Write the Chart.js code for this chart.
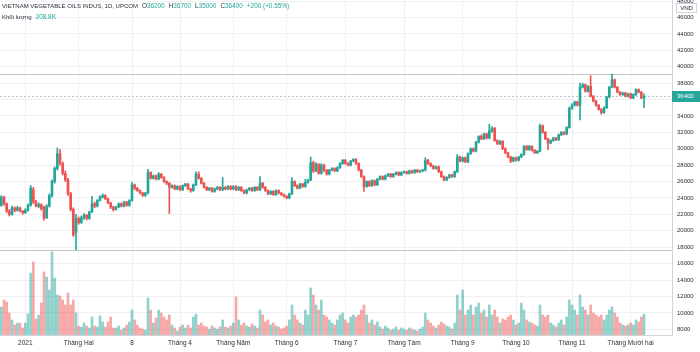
<!DOCTYPE html>
<html><head><meta charset="utf-8">
<script src="https://cdn.jsdelivr.net/npm/chart.js@4/dist/chart.umd.min.js"></script>
<style>
html,body{margin:0;padding:0;background:#fff;}
#wrap{position:relative;width:700px;height:352px;overflow:hidden;font-family:"Liberation Sans",Arial,sans-serif;}
#c{position:absolute;left:0;top:0;}
.hdr{position:absolute;left:2px;font-size:6px;color:#2a2e39;white-space:nowrap;line-height:7px;}
.g{color:#26a69a;}
.it{margin-left:4px;font-size:6.4px;}
#vnd{position:absolute;left:676px;top:3px;width:19px;height:8px;border:1px solid #d1d4dc;background:#fff;font-size:6px;line-height:8px;text-align:center;color:#2a2e39;}
</style></head>
<body><div id="wrap">
<canvas id="c" width="700" height="352"></canvas>
<div class="hdr" style="top:2px">VIETNAM VEGETABLE OILS INDUS, 1D, UPCOM<span class="it">O<span class="g">36200</span></span><span class="it">H<span class="g">36700</span></span><span class="it">L<span class="g">35000</span></span><span class="it">C<span class="g">36400</span></span><span class="it g">+200 (+0.55%)</span></div>
<div class="hdr" style="top:13px">Khối lượng<span class="it g">208.8K</span></div>
<div id="vnd">VND</div>
</div>
<script>
// ---- data (daily bars, 21 Dec 2020 .. 8 Dec 2021) ----
const open = [23100,24100,23300,22400,22000,22800,22500,22800,22400,22200,22500,23100,25000,23500,23000,23200,22900,21600,23000,24300,26000,27600,29400,28200,27000,26200,24500,22600,19800,21500,
21000,21600,21900,21500,22300,23300,23000,23700,24100,24300,23900,23400,22900,22600,22900,23300,23000,23500,23100,23700,25600,25200,24900,24600,24300,24600,27100,26400,26700,26300,
26900,26500,26000,25800,25300,25500,25100,25400,25000,25500,25700,25100,24900,25600,26900,26400,25800,25300,25000,25200,24800,25100,25300,25000,25300,25100,25400,25100,25400,25000,
25300,24900,24600,25000,25200,24900,25300,25000,25800,25300,24900,24500,24800,24400,24900,24600,24400,24200,24000,24500,26000,25500,25200,25700,25400,25900,26200,28300,27300,28100,
27000,28000,27400,26900,27400,27600,27300,27700,28200,28600,28200,28000,28500,28700,28200,27400,26600,25400,26000,25500,26100,25600,26300,26600,26300,26700,26900,26600,26900,27100,
26800,27100,27200,27000,27300,27100,27400,27200,27300,27400,28600,28200,27900,27600,27800,27200,26600,26200,26500,26800,26600,27200,29000,28500,28900,28400,29400,30000,29700,30800,
31500,31200,31800,31300,32200,32500,31000,30600,30900,30000,29500,29000,28500,28900,28600,29000,29300,30300,29900,30300,29800,29500,29700,32800,32000,31200,30700,31000,31300,31100,
31700,32000,31800,32600,34900,35300,35700,35300,37500,37800,37000,37600,36400,35800,35300,34800,34400,35000,36300,37500,38400,37500,36900,36600,36800,36400,36700,36200,36600,37200,
36900,36200];
const high = [24300,24200,23400,22600,23000,22900,23000,22900,22500,22700,23300,25500,25300,23700,23400,23300,23000,23200,24500,26200,27800,30100,29900,28400,27300,26400,24700,22800,22000,21700,
21800,22100,22000,22400,24200,23500,23800,24300,24500,24400,24000,23500,23000,23000,23400,23400,23600,23600,23800,25900,25700,25300,25000,24700,24700,27500,27200,26800,26800,27100,
27000,26600,26100,25900,25600,25600,25500,25500,25600,25800,25800,25200,25700,27200,27200,26500,25900,25400,25300,25300,25200,25400,25400,26500,25400,25500,25500,25500,25500,25400,
25400,25000,25100,25300,25300,25400,25400,26600,25900,25400,25000,24900,24900,25000,25000,24700,24500,24300,24600,26500,26100,25600,25800,25800,26300,26300,29000,28500,28300,28200,
28200,28100,27500,27500,27700,27700,27800,28300,28700,28700,28300,28600,28800,28800,28300,27500,26700,26100,26100,26200,26200,26400,26700,26700,26800,27000,27000,27000,27200,27200,
27200,27300,27300,27400,27400,27500,27500,27400,27500,28900,28700,28300,28000,27900,27900,27300,26700,26600,26900,26900,27300,29300,29100,29000,29000,29500,30100,30100,30900,31600,
31700,31900,31900,33000,32700,32600,31100,31000,31000,30100,29600,29100,29000,29000,29100,29400,30400,30400,30400,30400,29900,29800,33000,32900,32100,31300,31100,31400,31400,31800,
32100,32100,32700,35100,35500,35800,35800,38000,38000,37900,37700,38900,36500,35900,35400,34900,35100,36400,37600,39100,38500,37600,37000,36900,36900,36800,36800,36700,37300,37300,
37000,36700];
const low = [23000,23100,22200,21800,21900,22300,22400,22300,22000,22100,22400,23000,23300,22900,22800,22500,21300,21500,22900,24100,25800,27400,28000,26800,26000,24300,22400,19300,17700,20800,
20900,21400,21300,21400,22200,22800,22900,23600,24000,23800,23300,22700,22400,22500,22800,22900,22900,23000,23000,23600,25000,24800,24500,24200,24200,24500,26300,26300,26200,26200,
26400,25900,25600,22100,25200,25000,25000,24900,24900,25400,25000,24700,24800,25500,26300,25700,25200,24900,24900,24700,24700,25000,24900,24900,25000,25000,25000,25000,24900,24900,
24800,24500,24500,24900,24800,24800,24900,24900,25200,24800,24400,24400,24300,24300,24500,24300,24100,23900,23900,24400,25400,25100,25100,25300,25300,25800,26100,27100,27200,26900,
26900,27200,26800,26800,27300,27200,27200,27600,28100,28100,27900,27900,28400,28100,27300,26500,24800,25300,25400,25400,25500,25500,26200,26200,26200,26600,26500,26500,26800,26700,
26700,27000,26900,26900,27000,27000,27100,27100,27200,27300,28100,27800,27500,27500,27100,26500,26100,26100,26400,26500,26500,27100,28400,28400,28300,28300,29300,29600,29600,30700,
31100,31100,31200,31200,32000,30900,30500,30500,29900,29400,28900,28300,28400,28500,28500,28900,29200,29800,29800,29700,29400,29400,29600,31900,31100,29900,30600,30900,31000,31000,
31600,31700,31700,32500,34800,35200,35200,33500,37400,36900,36900,36300,35700,35200,34700,34200,34300,34900,36200,37400,37400,36800,36500,36500,36300,36300,36100,36100,36500,36800,
36100,35000];
const close = [24100,23300,22400,22000,22800,22500,22800,22400,22200,22500,23100,25200,23500,23000,23200,22700,21500,23000,24300,26000,27600,29400,28200,27000,26200,24500,22600,19500,21500,21000,
21600,21900,21500,22300,23300,23000,23700,24100,24300,23900,23400,22900,22600,22900,23300,23000,23500,23100,23700,25600,25200,24900,24600,24300,24600,27100,26400,26700,26300,26900,
26500,26000,25800,25300,25500,25100,25400,25000,25500,25700,25100,24900,25600,26900,26400,25800,25300,25000,25200,24800,25100,25300,25000,25300,25100,25400,25100,25400,25000,25300,
24900,24600,25000,25200,24900,25300,25000,25800,25300,24900,24500,24800,24400,24900,24600,24400,24200,24000,24500,26000,25500,25200,25700,25400,25900,26200,28300,27300,28100,27000,
28000,27400,26900,27400,27600,27300,27700,28200,28600,28200,28000,28500,28700,28200,27400,26600,25400,26000,25500,26100,25600,26300,26600,26300,26700,26900,26600,26900,27100,26800,
27100,27200,27000,27300,27100,27400,27200,27300,27400,28600,28200,27900,27600,27800,27200,26600,26200,26500,26800,26600,27200,29000,28500,28900,28400,29400,30000,29700,30800,31500,
31200,31800,31300,32200,32500,31000,30600,30900,30000,29500,29000,28500,28900,28600,29000,29300,30300,29900,30300,29800,29500,29700,32800,32000,31200,30700,31000,31300,31100,31700,
32000,31800,32600,34900,35300,35700,35300,37500,37800,37000,37600,36400,35800,35300,34800,34400,35000,36300,37500,38400,37500,36900,36600,36800,36400,36700,36200,36600,37200,36900,
36200,36400];
const volume = [280,350,330,220,150,100,120,120,70,120,210,620,730,160,200,320,630,580,450,830,570,400,390,350,300,420,300,350,220,90,
80,120,90,70,180,90,80,190,130,80,130,180,70,70,90,50,70,100,130,250,150,100,70,60,50,370,250,120,170,250,
220,180,150,200,100,70,40,80,100,70,100,70,180,210,100,120,90,80,60,90,70,60,80,150,80,70,90,120,380,150,
100,120,90,80,110,90,70,250,200,130,150,100,120,90,80,60,70,90,150,300,200,150,120,100,250,200,470,400,300,250,
350,200,180,150,120,100,150,200,220,150,120,180,200,180,200,250,300,200,120,150,100,130,80,60,90,70,50,60,80,50,
70,60,50,70,60,50,40,60,80,220,150,120,90,70,100,130,110,90,80,60,120,400,250,450,200,250,300,200,280,320,
220,250,180,300,200,250,180,120,160,150,180,200,150,100,120,320,250,150,130,120,100,90,300,200,180,200,120,100,80,120,
150,100,180,350,300,250,200,400,280,250,200,300,220,200,180,200,150,200,250,280,220,180,120,100,90,100,120,100,150,130,
180,209];
const firstDay = '2020-12-21';
const holidays = ['2021-01-01','2021-02-10','2021-02-11','2021-02-12','2021-02-15','2021-02-16','2021-04-21','2021-04-30','2021-05-03','2021-09-02','2021-09-03'];
const tickDates = ['2021-01-04','2021-02-01','2021-03-08','2021-04-01','2021-05-04','2021-06-01','2021-07-01','2021-08-02','2021-09-01','2021-10-01','2021-11-01','2021-12-01'];
const tickTexts = ['2021','Tháng Hai','8','Tháng 4','Tháng Năm','Tháng 6','Tháng 7','Tháng Tám','Tháng 9','Tháng 10','Tháng 11','Tháng Mười hai'];
const priceTicks = [8000,10000,12000,14000,16000,18000,20000,22000,24000,26000,28000,30000,32000,34000,36000,38000,40000,42000,44000,46000,48000];
const emptySlots = 10;

// ---- categories: trading days ----
function tradingDays(start, count){
  const out=[]; const d=new Date(start+'T00:00:00Z');
  while(out.length<count){
    const s=d.toISOString().slice(0,10); const wd=d.getUTCDay();
    if(wd!==0 && wd!==6 && !holidays.includes(s)) out.push(s);
    d.setUTCDate(d.getUTCDate()+1);
  }
  return out;
}
const labels = tradingDays(firstDay, open.length);
for(let k=0;k<emptySlots;k++) labels.push('');
const tickIdx = tickDates.map(t=>labels.indexOf(t));

const UP='#26a69a', DN='#ef5350', UPV='rgba(38,166,154,0.5)', DNV='rgba(239,83,80,0.5)';
const isUp = open.map((o,i)=>close[i]>=o);
const FONT = {family:'"Liberation Sans", Arial, sans-serif', size:6};
const XFONT = {family:'"Liberation Sans", Arial, sans-serif', size:6.5};

const overlay = {
  id:'overlay',
  beforeDatasetsDraw(chart){
    const {ctx, chartArea:a, scales:{y}} = chart;
    const hi = Math.max(...high), lo = Math.min(...low);
    ctx.save();
    ctx.strokeStyle='#c3c5cb'; ctx.lineWidth=1;
    [hi,lo].forEach(v=>{const py=Math.round(y.getPixelForValue(v))+0.5; ctx.beginPath(); ctx.moveTo(a.left,py); ctx.lineTo(a.right,py); ctx.stroke();});
    const last = close[close.length-1];
    const py = Math.round(y.getPixelForValue(last))+0.5;
    ctx.strokeStyle='rgba(120,123,134,0.45)'; ctx.setLineDash([2,2]);
    ctx.beginPath(); ctx.moveTo(a.left,py); ctx.lineTo(a.right,py); ctx.stroke();
    ctx.restore();
  },
  afterDraw(chart){
    const {ctx, chartArea:a, scales:{y}} = chart;
    const last = close[close.length-1];
    const py = y.getPixelForValue(last);
    ctx.save();
    ctx.fillStyle = isUp[isUp.length-1]?UP:DN;
    ctx.fillRect(a.right, Math.round(py)-5, 28, 11);
    ctx.fillStyle='#fff'; ctx.font='6px "Liberation Sans", Arial, sans-serif';
    ctx.textBaseline='middle'; ctx.textAlign='left';
    ctx.fillText(String(last), a.right+5, Math.round(py)+0.5);
    ctx.restore();
  }
};

new Chart(document.getElementById('c'), {
  type:'bar',
  data:{ labels, datasets:[
    {label:'vol', data:volume, backgroundColor:isUp.map(u=>u?UPV:DNV), barThickness:2, grouped:false, yAxisID:'v', order:3},
    {label:'wick', data:low.map((l,i)=>[l,high[i]]), backgroundColor:isUp.map(u=>u?UP:DN), barThickness:1, grouped:false, yAxisID:'y', order:2},
    {label:'body', data:open.map((o,i)=>[o,close[i]]), backgroundColor:isUp.map(u=>u?UP:DN), barThickness:2, grouped:false, yAxisID:'y', order:1}
  ]},
  options:{
    responsive:false, animation:false, events:[],
    layout:{padding:0},
    plugins:{legend:{display:false}, tooltip:{enabled:false}},
    scales:{
      x:{
        grid:{offset:false, color:'#eef0f4', drawTicks:false, tickLength:0},
        border:{color:'#d1d4dc'},
        ticks:{autoSkip:false, maxRotation:0, padding:4, font:XFONT, color:'#2a2e39',
          callback(v){ const k=tickIdx.indexOf(v); return k>=0?tickTexts[k]:''; }},
        afterBuildTicks(s){ s.ticks = tickIdx.map(i=>({value:i})); },
        afterFit(s){ s.height=17; s.paddingLeft=0; s.paddingRight=0; }
      },
      y:{
        position:'right', min:7300, max:48130,
        grid:{color:'#eef0f4', drawTicks:false, tickLength:0},
        border:{color:'#d1d4dc'},
        ticks:{padding:5, font:FONT, color:'#2a2e39', callback(v){ return String(v); }},
        afterBuildTicks(s){ s.ticks = priceTicks.map(v=>({value:v})); },
        afterFit(s){ s.width=28; s.paddingTop=0; s.paddingBottom=0; }
      },
      v:{display:false, min:0, max:3350}
    }
  },
  plugins:[overlay]
});
</script>
</body></html>
